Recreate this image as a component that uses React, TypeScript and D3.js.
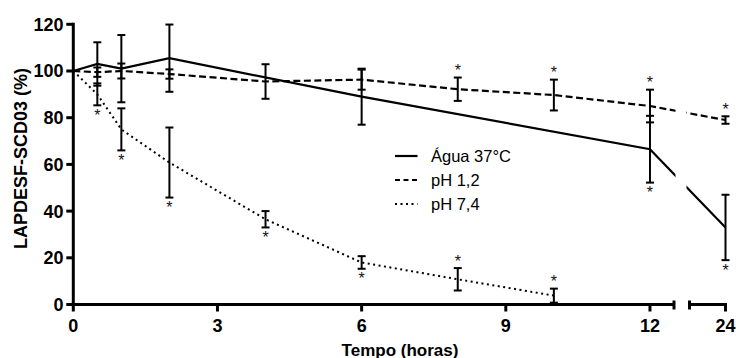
import React from 'react';
import * as d3 from 'd3';

const aguaHours = [0, 0.5, 1, 2, 6, 12, 24];
const aguaValues = [100, 103, 101, 105.5, 89, 66.5, 33];
const aguaErrors = [0, 9.3, 14.4, 14.4, 12, 14.3, 14];

const ph12Hours = [0, 0.5, 1, 2, 4, 6, 8, 10, 12, 24];
const ph12Values = [100, 99.5, 100, 98.7, 95.5, 96.3, 92.2, 89.7, 85, 79];
const ph12Errors = [0, 2, 3.2, 2, 7.4, 4.3, 5, 6.6, 7, 1.6];

const ph74Hours = [0, 0.5, 1, 2, 4, 6, 8, 10];
const ph74Values = [100, 90, 75, 60.8, 36.5, 18, 10.8, 3.8];
const ph74Errors = [0, 4.7, 9, 15, 3.5, 2.7, 4.8, 3];

const aguaStarsAbove: number[] = [];
const aguaStarsBelow = [12, 24];
const ph12StarsAbove = [8, 10, 12, 24];
const ph12StarsBelow: number[] = [];
const ph74StarsAbove = [8, 10];
const ph74StarsBelow = [0.5, 1, 2, 4, 6];

const yTicks = [0, 20, 40, 60, 80, 100, 120];
const xTicksFirst = [0, 3, 6, 9, 12];
const xTicksSecond = [24];
const seriesNames = ['Água 37°C', 'pH 1,2', 'pH 7,4'];

const FONT = "'Liberation Sans', Arial, Helvetica, sans-serif";

export default function App() {
  const W = 736;
  const H = 358;
  const x1 = d3.scaleLinear().domain([0, 12.5]).range([73.3, 674]);
  const x2 = d3.scaleLinear().domain([23.25, 24]).range([689.5, 725.5]);
  const xPos = (h: number) => (h <= 12.5 ? x1(h) : x2(h));
  const y = d3.scaleLinear().domain([0, 120]).range([304.5, 24.3]);
  const y0 = y(0);

  const line = d3
    .line<[number, number]>()
    .x((d) => xPos(d[0]))
    .y((d) => y(d[1]));

  const series = [
    { name: seriesNames[0], hours: aguaHours, values: aguaValues, errors: aguaErrors, above: aguaStarsAbove, below: aguaStarsBelow, dash: undefined as string | undefined, legendDash: undefined as string | undefined, width: 2.2 },
    { name: seriesNames[1], hours: ph12Hours, values: ph12Values, errors: ph12Errors, above: ph12StarsAbove, below: ph12StarsBelow, dash: '7,3.5', legendDash: '5,3.5', width: 2.2 },
    { name: seriesNames[2], hours: ph74Hours, values: ph74Values, errors: ph74Errors, above: ph74StarsAbove, below: ph74StarsBelow, dash: '2,3.5', legendDash: '2,3.5', width: 2 },
  ];

  const capHalf = 4;

  return (
    <svg width={W} height={H} style={{ position: 'absolute', left: 0, top: 0, background: '#fff' }} fontFamily={FONT}>
      <defs>
        <clipPath id="brk">
          <rect x={0} y={0} width={675.5} height={H} />
          <rect x={686.5} y={0} width={W - 686.5} height={H} />
        </clipPath>
      </defs>

      {/* lines */}
      <g clipPath="url(#brk)">
        {series.map((s, i) => (
          <path
            key={i}
            d={line(s.hours.map((h, j) => [h, s.values[j]]) as [number, number][]) || ''}
            fill="none"
            stroke="#000"
            strokeWidth={s.width}
            strokeDasharray={s.dash}
          />
        ))}
      </g>

      {/* error bars */}
      {series.map((s, i) => (
        <g key={'e' + i} stroke="#000" strokeWidth={2}>
          {s.hours.map((h, j) =>
            s.errors[j] > 0 ? (
              <g key={j}>
                <line x1={xPos(h)} x2={xPos(h)} y1={y(s.values[j] + s.errors[j])} y2={y(s.values[j] - s.errors[j])} />
                <line x1={xPos(h) - capHalf} x2={xPos(h) + capHalf} y1={y(s.values[j] + s.errors[j])} y2={y(s.values[j] + s.errors[j])} />
                <line x1={xPos(h) - capHalf} x2={xPos(h) + capHalf} y1={y(s.values[j] - s.errors[j])} y2={y(s.values[j] - s.errors[j])} />
              </g>
            ) : null
          )}
        </g>
      ))}

      {/* asterisks */}
      {series.map((s, i) => (
        <g key={'s' + i} fontSize={16} fill="#111" textAnchor="middle">
          {s.above.map((h) => {
            const j = s.hours.indexOf(h);
            const top = y(s.values[j] + s.errors[j]);
            return (
              <text key={'a' + h} x={xPos(h)} y={top - 10.5 + 9}>*</text>
            );
          })}
          {s.below.map((h) => {
            const j = s.hours.indexOf(h);
            const bot = y(s.values[j] - s.errors[j]);
            return (
              <text key={'b' + h} x={xPos(h)} y={bot + 6.5 + 9}>*</text>
            );
          })}
        </g>
      ))}

      {/* y axis */}
      <g stroke="#000" strokeWidth={3}>
        <line x1={x1(0)} x2={x1(0)} y1={y(120) - 1.5} y2={y0 + 1.5} />
        {yTicks.map((t) => (
          <line key={t} x1={x1(0)} x2={x1(0) - 7} y1={y(t)} y2={y(t)} />
        ))}
      </g>
      <g fontSize={18} fontWeight="bold" textAnchor="end" fill="#000">
        {yTicks.map((t) => (
          <text key={t} x={63.5} y={y(t)} dy="0.36em">{t}</text>
        ))}
      </g>

      {/* x axis */}
      <g stroke="#000" strokeWidth={3}>
        <line x1={x1(0) - 1.5} x2={x1(12.5)} y1={y0} y2={y0} />
        <line x1={x2(23.25)} x2={x2(24) + 1.5} y1={y0} y2={y0} />
        <line x1={x1(12.5)} x2={x1(12.5)} y1={y0 - 4} y2={y0 + 5} />
        <line x1={x2(23.25)} x2={x2(23.25)} y1={y0 - 4} y2={y0 + 5} />
        {xTicksFirst.map((t) => (
          <line key={t} x1={x1(t)} x2={x1(t)} y1={y0} y2={y0 + 7} />
        ))}
        {xTicksSecond.map((t) => (
          <line key={t} x1={x2(t)} x2={x2(t)} y1={y0} y2={y0 + 7} />
        ))}
      </g>
      <g fontSize={18} fontWeight="bold" textAnchor="middle" fill="#000">
        {xTicksFirst.map((t) => (
          <text key={t} x={x1(t)} y={331.5}>{t}</text>
        ))}
        {xTicksSecond.map((t) => (
          <text key={t} x={x2(t)} y={331.5}>{t}</text>
        ))}
      </g>

      {/* axis titles */}
      <text x={400} y={355.5} fontSize={17} fontWeight="bold" textAnchor="middle">Tempo (horas)</text>
      <text
        transform={`translate(27,${(y(120) + y0) / 2 - 6}) rotate(-90)`}
        fontSize={18}
        fontWeight="bold"
        textAnchor="middle"
      >
        LAPDESF-SCD03 (%)
      </text>

      {/* legend */}
      <g>
        {series.map((s, i) => {
          const cy = 156 + i * 24;
          return (
            <g key={'l' + i}>
              <line x1={395} x2={417.5} y1={cy} y2={cy} stroke="#000" strokeWidth={s.width} strokeDasharray={s.legendDash} />
              <text x={431} y={cy} dy="0.36em" fontSize={16.5} fill="#000">{s.name}</text>
            </g>
          );
        })}
      </g>
    </svg>
  );
}
